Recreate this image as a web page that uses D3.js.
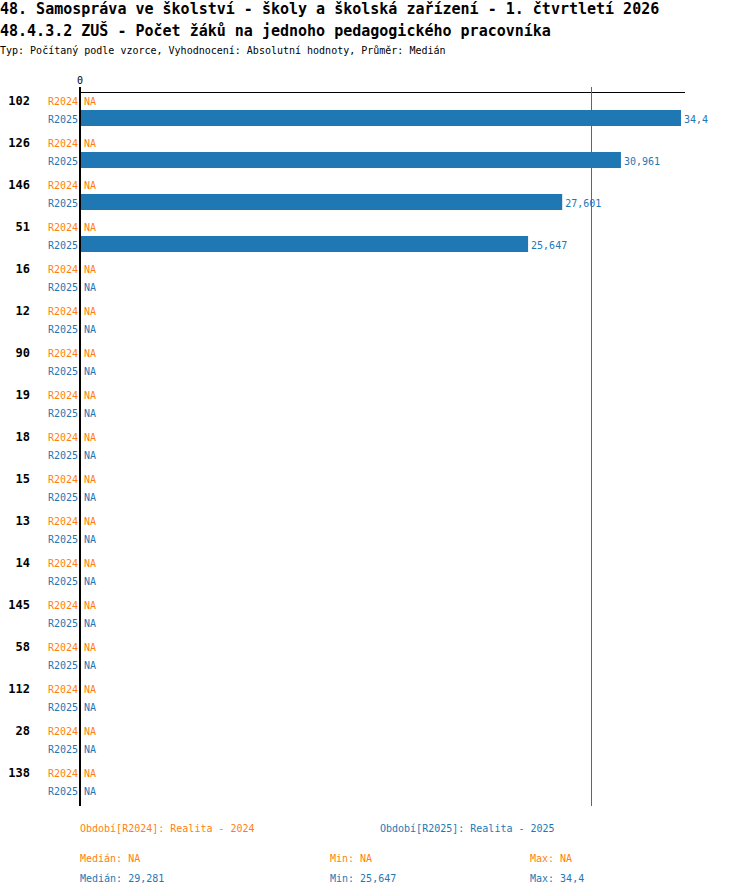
<!DOCTYPE html>
<html>
<head>
<meta charset="utf-8">
<script src="https://cdn.jsdelivr.net/npm/d3@7"></script>
<style>
  body { margin: 0; background: #fff; }
  text { font-family: "DejaVu Sans Mono", "Liberation Mono", monospace; }
</style>
</head>
<body>
<div id="chart"></div>
<script>
// chart data
const categories = ['102', '126', '146', '51', '16', '12', '90', '19', '18', '15', '13', '14', '145', '58', '112', '28', '138'];
const periods = ['R2024', 'R2025'];
const values2024 = [null, null, null, null, null, null, null, null, null, null, null, null, null, null, null, null, null];
const values2025 = [34.4, 30.961, 27.601, 25.647, null, null, null, null, null, null, null, null, null, null, null, null, null];
const median2025 = 29.281;
const titleLines = [
    '48. Samospráva ve školství - školy a školská zařízení - 1. čtvrtletí 2026',
    '48.4.3.2 ZUŠ - Počet žáků na jednoho pedagogického pracovníka'
];
const subTitle = 'Typ: Počítaný podle vzorce, Vyhodnocení: Absolutní hodnoty, Průměr: Medián';
const legendLabels = ['Období[R2024]: Realita - 2024', 'Období[R2025]: Realita - 2025'];
const statLabels2024 = ['Medián: NA', 'Min: NA', 'Max: NA'];
const statLabels2025 = ['Medián: 29,281', 'Min: 25,647', 'Max: 34,4'];

const colors = ['#ff7f0e', '#1f77b4'];
const chartW = 750, chartH = 896;
const plotLeft = 80, plotTop = 80;
const rowStep = 42;
const plotBottom = 806;

const fmt = v => String(v).replace('.', ',');

const svg = d3.select('#chart').append('svg')
    .attr('width', chartW)
    .attr('height', chartH);

// titles
svg.selectAll('.title')
    .data(titleLines)
    .enter().append('text')
    .attr('x', 0)
    .attr('y', (d, i) => 14 + i * 22)
    .attr('font-size', 15)
    .attr('font-weight', 'bold')
    .text(d => d);

svg.append('text')
    .attr('x', 0)
    .attr('y', 54)
    .attr('font-size', 10)
    .text(subTitle);

// scales
const x = d3.scaleLinear()
    .domain([0, d3.max(values2025)])
    .range([plotLeft, 681]);

const y = d3.scaleBand()
    .domain(categories)
    .range([plotTop + 13, plotTop + 13 + rowStep * categories.length]);

const sub = d3.scaleBand()
    .domain(periods)
    .range([0, rowStep - 6]);

// top axis line
svg.append('line')
    .attr('x1', plotLeft).attr('x2', 685)
    .attr('y1', 92.5).attr('y2', 92.5)
    .attr('stroke', '#000');

svg.append('text')
    .attr('x', x(0))
    .attr('y', 84)
    .attr('text-anchor', 'middle')
    .attr('font-size', 10)
    .text('0');

// rows
const rows = svg.selectAll('.row')
    .data(categories)
    .enter().append('g')
    .attr('transform', d => 'translate(0,' + y(d) + ')');

rows.append('text')
    .attr('x', 30)
    .attr('y', 12)
    .attr('text-anchor', 'end')
    .attr('font-size', 12)
    .attr('font-weight', 'bold')
    .text(d => d);

periods.forEach((p, pi) => {
    const vals = pi === 0 ? values2024 : values2025;
    rows.append('text')
        .attr('x', 78)
        .attr('y', sub(p) + 12)
        .attr('text-anchor', 'end')
        .attr('font-size', 10)
        .attr('fill', colors[pi])
        .text(p);

    rows.filter((d, i) => vals[i] != null)
        .append('rect')
        .attr('x', x(0))
        .attr('y', sub(p) - 1)
        .attr('width', d => x(vals[categories.indexOf(d)]) - x(0))
        .attr('height', 16)
        .attr('fill', colors[pi]);

    rows.append('text')
        .attr('x', d => {
            const v = vals[categories.indexOf(d)];
            return v == null ? x(0) + 4 : x(v) + 3;
        })
        .attr('y', sub(p) + 12)
        .attr('font-size', 10)
        .attr('fill', colors[pi])
        .text(d => {
            const v = vals[categories.indexOf(d)];
            return v == null ? 'NA' : fmt(v);
        });
});

// median line
const medX = Math.floor(x(median2025)) + 0.5;
svg.append('line')
    .attr('x1', medX).attr('x2', medX)
    .attr('y1', 87).attr('y2', plotBottom)
    .attr('stroke', colors[1])
    .attr('stroke-width', 1);

// vertical zero axis
svg.append('line')
    .attr('x1', plotLeft).attr('x2', plotLeft)
    .attr('y1', 87).attr('y2', plotBottom)
    .attr('stroke', '#000')
    .attr('stroke-width', 2);

// legend
svg.selectAll('.legend')
    .data(legendLabels)
    .enter().append('text')
    .attr('x', (d, i) => 80 + i * 300)
    .attr('y', 832)
    .attr('font-size', 10)
    .attr('fill', (d, i) => colors[i])
    .text(d => d);

const statX = [80, 330, 530];
[statLabels2024, statLabels2025].forEach((labels, li) => {
    svg.selectAll('.stat' + li)
        .data(labels)
        .enter().append('text')
        .attr('x', (d, i) => statX[i])
        .attr('y', 862 + li * 20)
        .attr('font-size', 10)
        .attr('fill', colors[li])
        .text(d => d);
});
</script>
</body>
</html>
